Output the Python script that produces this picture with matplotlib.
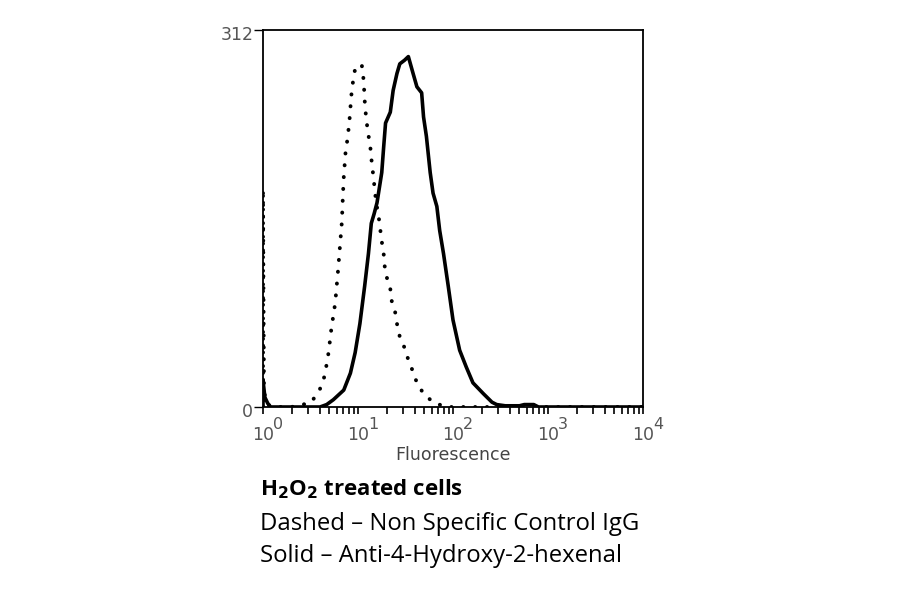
import numpy as np
import matplotlib
matplotlib.use("Agg")
import matplotlib.pyplot as plt
import matplotlib.transforms as mtransforms
from matplotlib.ticker import LogLocator, FixedLocator, NullFormatter

# log10 fluorescence and event counts
control_log = [0.0, 0.0, 0.01, 0.02, 0.05, 0.10, 0.30, 0.42, 0.51, 0.60, 0.65,
               0.69, 0.72, 0.76, 0.79, 0.81, 0.83, 0.84, 0.85, 0.87, 0.89, 0.91,
               0.93, 0.95, 0.97, 1.00, 1.04, 1.06, 1.07, 1.08, 1.10, 1.13, 1.14,
               1.16, 1.19, 1.22, 1.25, 1.27, 1.28, 1.30, 1.34, 1.35, 1.39, 1.41,
               1.44, 1.49, 1.53, 1.58, 1.62, 1.69, 1.79, 1.89, 1.95, 2.40, 4.0]
control_counts = [0, 177, 20, 8, 2, 0, 0, 2, 4, 15, 26, 45, 65, 86, 113, 133,
                  153, 173, 190, 212, 222, 237, 258, 271, 280, 283, 283, 270,
                  254, 244, 230, 215, 206, 192, 170, 156, 137, 127, 117, 108, 98,
                  89, 79, 69, 58, 49, 39, 29, 20, 11, 4, 1, 0, 0, 0]

antibody_log = [0.0, 0.0, 0.01, 0.02, 0.05, 0.08, 0.40, 0.60, 0.67, 0.74, 0.85,
                0.92, 0.97, 1.02, 1.07, 1.11, 1.14, 1.17, 1.20, 1.25, 1.27, 1.29,
                1.34, 1.37, 1.41, 1.44, 1.49, 1.53, 1.58, 1.62, 1.67, 1.69, 1.72,
                1.76, 1.79, 1.83, 1.86, 1.90, 1.95, 2.00, 2.07, 2.14, 2.21, 2.32,
                2.41, 2.46, 2.55, 2.70, 2.75, 2.85, 2.90, 4.0]
antibody_counts = [0, 22, 15, 8, 3, 0, 0, 0, 2, 6, 14, 28, 45, 69, 100, 127,
                   152, 160, 169, 194, 215, 235, 244, 262, 276, 284, 287, 290,
                   276, 265, 260, 240, 224, 194, 177, 166, 146, 127, 100, 72, 47,
                   33, 20, 11, 4, 2, 1, 1, 2, 2, 0, 0]

x_ticks = [1, 10, 100, 1000, 10000]
x_exponents = ["0", "1", "2", "3", "4"]
y_ticks = [0, 312]

caption_title = "H$_\\mathbf{2}$O$_\\mathbf{2}$ treated cells"
caption_lines = ["Dashed \u2013 Non Specific Control IgG",
                 "Solid \u2013 Anti-4-Hydroxy-2-hexenal"]

fig = plt.figure(figsize=(9, 5.94), dpi=100)
ax = fig.add_axes([263 / 900, 187 / 594, 380 / 900, 377 / 594])

cx = 10 ** np.array(control_log)
# the pile-up in the first channel is drawn with tighter dots
ax.plot([cx[0], cx[1]], [0, control_counts[1]], color="black", linewidth=2.8,
        linestyle=(0, (0.05, 1.7)), dash_capstyle="round")
ax.plot(cx[1:], control_counts[1:], color="black", linewidth=2.8,
        linestyle=(0, (0.05, 3.0)), dash_capstyle="round")
ax.plot(10 ** np.array(antibody_log), antibody_counts, color="black",
        linewidth=2.6)

ax.set_xscale("log")
ax.set_xlim(1, 10000)
ax.set_ylim(0, 312)
ax.xaxis.set_major_locator(FixedLocator(x_ticks))
ax.xaxis.set_major_formatter(NullFormatter())
ax.xaxis.set_minor_locator(LogLocator(base=10, subs=np.arange(2, 10)))
ax.xaxis.set_minor_formatter(NullFormatter())
ax.set_yticks(y_ticks)
ax.set_yticklabels([str(v) for v in y_ticks])

ax.tick_params(axis="x", which="major", direction="out", length=5, width=1.2)
ax.tick_params(axis="x", which="minor", direction="out", length=5, width=1.2)
ax.tick_params(axis="y", direction="out", length=6.5, width=1.0, labelsize=12.5,
               pad=0.5, labelcolor="#555555")
shift = mtransforms.ScaledTranslation(0, -3 / 100, fig.dpi_scale_trans)
for lab in ax.get_yticklabels():
    lab.set_transform(lab.get_transform() + shift)
for s in ax.spines.values():
    s.set_linewidth(1.3)

# decade labels: big "10" with a nearly full-size exponent
trans = mtransforms.blended_transform_factory(ax.transData, fig.transFigure)
for xv, ex in zip(x_ticks, x_exponents):
    ax.text(xv, 1 - 440 / 594, "10", transform=trans, ha="center", va="baseline",
            fontsize=12.5, color="#555555")
    t = ax.text(xv, 1 - 429 / 594, ex, transform=trans, ha="left",
                va="baseline", fontsize=11.5, color="#555555")
    t.set_transform(trans + mtransforms.ScaledTranslation(10 / 100, 0, fig.dpi_scale_trans))

fig.text(453 / 900, 1 - 460 / 594, "Fluorescence", fontsize=12.5, color="#444444",
         ha="center", va="baseline")

fig.text(260 / 900, 1 - 495 / 594, caption_title, fontsize=16, fontweight="bold",
         family="Open Sans", va="baseline")
fig.text(260 / 900, 1 - 530 / 594, caption_lines[0], fontsize=17.2,
         family="Open Sans", va="baseline")
fig.text(260 / 900, 1 - 562 / 594, caption_lines[1], fontsize=17.2,
         family="Open Sans", va="baseline")

fig.savefig("out.png", dpi=100)
